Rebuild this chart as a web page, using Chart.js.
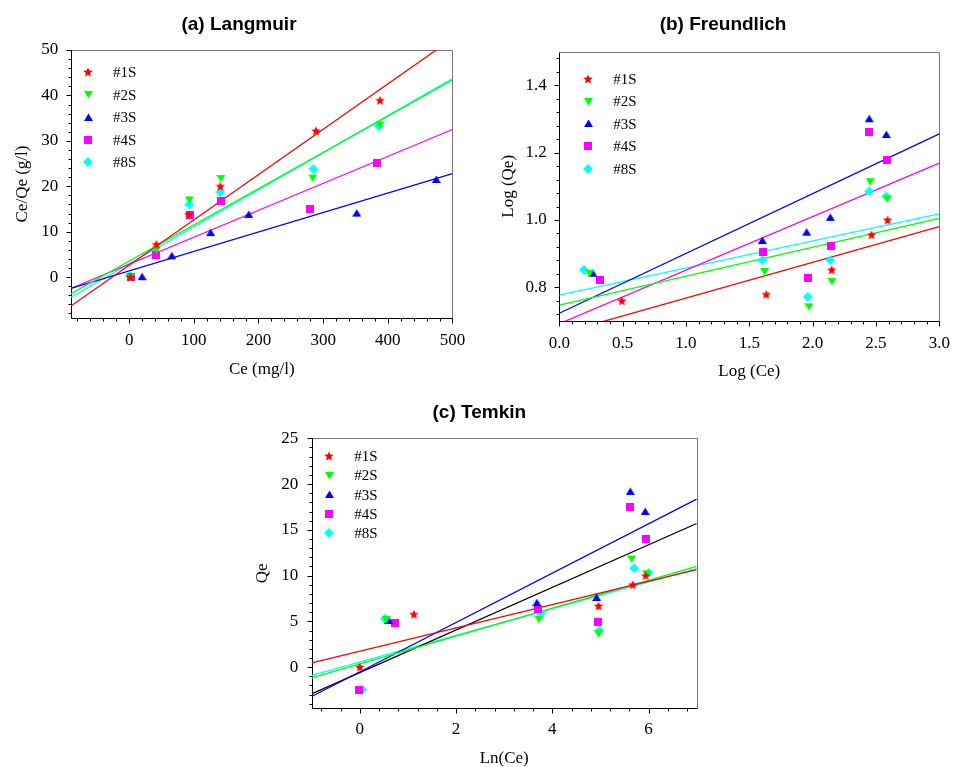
<!DOCTYPE html>
<html>
<head>
<meta charset="utf-8">
<script src="https://cdn.jsdelivr.net/npm/chart.js@4"></script>
<style>
  body { margin: 0; background: #fff; width: 962px; height: 767px; position: relative; overflow: hidden; }
  canvas { position: absolute; }
</style>
</head>
<body>
<canvas id="langmuir" width="478" height="400" style="left:0;top:0"></canvas>
<canvas id="freundlich" width="482" height="400" style="left:480px;top:0"></canvas>
<canvas id="temkin" width="480" height="367" style="left:240px;top:400px"></canvas>
<script>
const seriesNames = ["#1S", "#2S", "#3S", "#4S", "#8S"];
const seriesColors = ["#ff0000", "#00ff00", "#0000ff", "#ff00ff", "#00ffff"];
const seriesShapes = ["star", "triangleDown", "triangle", "square", "diamond"];

// (a) Langmuir: Ce (mg/l) vs Ce/Qe (g/l)
const langmuirCe = [
  [2, 42, 92, 141, 289, 388],
  [2, 42, 93, 142, 284, 388],
  [20, 66, 126, 185, 352, 475],
  [3, 42, 94, 142, 280, 383],
  [1, 41, 93, 141, 285, 386]
];
const langmuirCeQe = [
  [0, 7.2, 13.8, 20.0, 32.2, 38.9],
  [0, 6.0, 17.0, 21.7, 21.8, 33.5],
  [0.1, 4.7, 9.8, 13.8, 14.1, 21.5],
  [0, 4.8, 13.6, 16.7, 15.1, 25.2],
  [0.3, 5.4, 16.0, 18.7, 23.8, 33.3]
];
const langmuirFitX = [-90, 500];
const langmuirFitY = [[-6.35, 52.5], [-3.66, 43.4], [-2.47, 22.8], [-2.48, 32.5], [-4.43, 43.7]];
const langmuirXTicks = [0, 100, 200, 300, 400, 500];
const langmuirYTicks = [0, 10, 20, 30, 40, 50];

// (b) Freundlich: Log(Ce) vs Log(Qe)
const freundlichLogCe = [
  [0.494, 1.634, 2.151, 2.465, 2.592],
  [0.239, 1.621, 1.971, 2.153, 2.455, 2.592],
  [0.265, 1.603, 1.953, 2.140, 2.447, 2.582],
  [0.322, 1.608, 1.966, 2.148, 2.447, 2.587],
  [0.195, 1.603, 1.961, 2.140, 2.447, 2.582]
];
const freundlichLogQe = [
  [0.760, 0.779, 0.852, 0.956, 1.000],
  [0.842, 0.847, 0.742, 0.817, 1.114, 1.063],
  [0.842, 0.939, 0.964, 1.008, 1.301, 1.254],
  [0.822, 0.906, 0.827, 0.924, 1.261, 1.179],
  [0.852, 0.881, 0.772, 0.881, 1.085, 1.070]
];
const freundlichFitX = [0, 3];
const freundlichFitY = [[0.662, 0.980], [0.747, 1.005], [0.723, 1.256], [0.692, 1.169], [0.777, 1.018]];
const freundlichXTicks = [0, 0.5, 1.0, 1.5, 2.0, 2.5, 3.0];
const freundlichYTicks = [0.8, 1.0, 1.2, 1.4];

// (c) Temkin: Ln(Ce) vs Qe
const temkinLnCe = [
  [0, 1.124, 4.96, 5.67, 5.94],
  [0.55, 3.72, 4.96, 5.65, 5.96],
  [0.603, 3.68, 4.92, 5.62, 5.93],
  [-0.02, 0.728, 3.70, 4.95, 5.62, 5.94],
  [0.05, 0.52, 3.76, 4.98, 5.70, 6.0]
];
const temkinQe = [
  [0, 5.77, 6.68, 9.0, 10.0],
  [5.2, 5.2, 3.65, 11.8, 10.2],
  [5.1, 7.04, 7.6, 19.2, 17.0],
  [-2.45, 4.85, 6.4, 4.93, 17.5, 14.05],
  [-2.45, 5.3, 5.84, 4.0, 10.8, 10.3]
];
const temkinFitX = [-1, 7];
const temkinFitY = [[0.47, 10.66], [-1.17, 11.02], [-3.21, 18.36], [-2.92, 15.69], [-0.91, 10.77]];
const temkinFitColors = ["#ff0000", "#00ff00", "#0000ff", "#000000", "#00ffff"];
const temkinXTicks = [0, 2, 4, 6];
const temkinYTicks = [0, 5, 10, 15, 20, 25];

const serif = "'Liberation Serif', 'Times New Roman', serif";

function makeMarker(shape, color) {
  const size = { star: 10, triangle: 9, triangleDown: 9, square: 8, diamond: 10 }[shape];
  const c = document.createElement("canvas");
  c.width = size;
  c.height = size;
  const g = c.getContext("2d");
  const r = size / 2;
  g.fillStyle = color;
  g.beginPath();
  if (shape === "star") {
    for (let i = 0; i < 10; i++) {
      const a = -Math.PI / 2 + i * Math.PI / 5;
      const rr = i % 2 ? r * 0.45 : r;
      g.lineTo(r + rr * Math.cos(a), r + 0.4 + rr * Math.sin(a));
    }
  } else if (shape === "triangle") {
    g.moveTo(r, 0.5);
    g.lineTo(size, size - 1);
    g.lineTo(0, size - 1);
  } else if (shape === "triangleDown") {
    g.moveTo(0, 1);
    g.lineTo(size, 1);
    g.lineTo(r, size - 0.5);
  } else if (shape === "square") {
    g.rect(0, 0, size, size);
  } else {
    g.moveTo(r, 0);
    g.lineTo(size, r);
    g.lineTo(r, size);
    g.lineTo(0, r);
  }
  g.closePath();
  g.fill();
  return c;
}

const markers = seriesShapes.map((s, i) => makeMarker(s, seriesColors[i]));

// frame round the plot area, with outward major and minor ticks on left and bottom
const frameTicks = {
  id: "frameTicks",
  beforeDatasetsDraw(chart, args, opts) {
    const { ctx, chartArea: a, scales } = chart;
    const L = Math.round(a.left) + 0.5, R = Math.round(a.right) + 0.5;
    const T = Math.round(a.top) + 0.5, B = Math.round(a.bottom) + 0.5;
    ctx.save();
    ctx.lineWidth = 1;
    ctx.strokeStyle = "#777";
    ctx.beginPath();
    ctx.moveTo(L, T); ctx.lineTo(R, T); ctx.lineTo(R, B);
    ctx.stroke();
    ctx.strokeStyle = "#000";
    ctx.beginPath();
    ctx.moveTo(L, T); ctx.lineTo(L, B); ctx.lineTo(R, B);
    const mark = (scale, step, len) => {
      const start = Math.ceil(scale.min / step - 1e-6);
      const end = Math.floor(scale.max / step + 1e-6);
      for (let k = start; k <= end; k++) {
        const p = Math.round(scale.getPixelForValue(k * step)) + 0.5;
        if (scale.axis === "x") { ctx.moveTo(p, B); ctx.lineTo(p, B + len); }
        else { ctx.moveTo(L, p); ctx.lineTo(L - len, p); }
      }
    };
    mark(scales.x, opts.xMinor, 3);
    mark(scales.y, opts.yMinor, 3);
    mark(scales.x, opts.xMajor, 5);
    mark(scales.y, opts.yMajor, 5);
    ctx.stroke();
    ctx.restore();
  }
};

// legend drawn inside the plot area, top left
const insideLegend = {
  id: "insideLegend",
  afterDatasetsDraw(chart, args, opts) {
    const { ctx, chartArea: a } = chart;
    ctx.save();
    ctx.font = "15px " + serif;
    ctx.fillStyle = "#000";
    ctx.textBaseline = "middle";
    let row = 0;
    chart.data.datasets.forEach((ds) => {
      if (ds.isFit) return;
      const cy = a.top + opts.top + row * opts.rowHeight;
      const img = ds.pointStyle;
      ctx.drawImage(img, Math.round(a.left + opts.markerX - img.width / 2), Math.round(cy - img.height / 2));
      ctx.fillText(ds.label, a.left + opts.textX, cy + 1);
      row++;
    });
    ctx.restore();
  }
};

function buildPanel(p) {
  const datasets = [];
  p.fitY.forEach((ends, i) => {
    datasets.push({
      label: seriesNames[i] + " fit",
      isFit: true,
      data: p.fitX.map((x, k) => ({ x: x, y: ends[k] })),
      showLine: true,
      borderColor: p.fitColors[i],
      borderWidth: 1.3,
      pointRadius: 0,
      order: 2
    });
  });
  p.xs.forEach((xs, i) => {
    datasets.push({
      label: seriesNames[i],
      data: xs.map((x, k) => ({ x: x, y: p.ys[i][k] })),
      pointStyle: markers[i],
      pointRadius: 5,
      showLine: false,
      order: 1
    });
  });

  const tickFont = { family: serif, size: 17 };
  new Chart(document.getElementById(p.id), {
    type: "scatter",
    data: { datasets },
    options: {
      responsive: false,
      animation: false,
      events: [],
      layout: { padding: { left: p.padLeft, right: p.padRight, top: 0, bottom: 0 } },
      plugins: {
        legend: { display: false },
        tooltip: { enabled: false },
        title: {
          display: true,
          text: p.title,
          color: "#000",
          font: { family: "'Liberation Sans', Arial, sans-serif", size: 19, weight: "bold" },
          padding: p.titlePad
        },
        frameTicks: p.ticks,
        insideLegend: p.legend
      },
      scales: {
        x: {
          type: "linear",
          min: p.x.min,
          max: p.x.max,
          grid: { display: false, drawTicks: false },
          border: { display: false },
          afterBuildTicks: (s) => { s.ticks = p.x.ticks.map((v) => ({ value: v })); },
          afterFit: (s) => { s.height = p.x.height; },
          ticks: {
            color: "#000",
            font: tickFont,
            padding: p.x.tickPad,
            maxRotation: 0,
            callback: (v) => v.toFixed(p.decimals)
          },
          title: { display: true, text: p.x.title, color: "#000", font: tickFont, padding: { top: 0, bottom: p.x.titlePad } }
        },
        y: {
          type: "linear",
          min: p.y.min,
          max: p.y.max,
          grid: { display: false, drawTicks: false },
          border: { display: false },
          afterBuildTicks: (s) => { s.ticks = p.y.ticks.map((v) => ({ value: v })); },
          afterFit: (s) => { s.width = p.y.width; },
          ticks: {
            color: "#000",
            font: tickFont,
            padding: p.y.tickPad,
            callback: (v) => v.toFixed(p.decimals)
          },
          title: { display: true, text: p.y.title, color: "#000", font: tickFont, padding: { top: p.y.titlePad, bottom: 0 } }
        }
      }
    },
    plugins: [frameTicks, insideLegend]
  });
}

buildPanel({
  id: "langmuir",
  title: "(a) Langmuir",
  titlePad: { top: 13.6, bottom: 13.6 },
  padLeft: 22, padRight: 22,
  xs: langmuirCe, ys: langmuirCeQe,
  fitX: langmuirFitX, fitY: langmuirFitY, fitColors: seriesColors,
  decimals: 0,
  x: { min: -90, max: 500, ticks: langmuirXTicks, title: "Ce (mg/l)", tickPad: 12.8, titlePad: 19.8, height: 82 },
  y: { min: -9, max: 50, ticks: langmuirYTicks, title: "Ce/Qe (g/l)", tickPad: 12.7, titlePad: -9.2, width: 49 },
  ticks: { xMajor: 100, xMinor: 20, yMajor: 10, yMinor: 2 },
  legend: { markerX: 17, textX: 42, top: 22, rowHeight: 22.6 }
});

buildPanel({
  id: "freundlich",
  title: "(b) Freundlich",
  titlePad: { top: 13.6, bottom: 15.3 },
  padLeft: 21.7, padRight: 17.7,
  xs: freundlichLogCe, ys: freundlichLogQe,
  fitX: freundlichFitX, fitY: freundlichFitY, fitColors: seriesColors,
  decimals: 1,
  x: { min: 0, max: 3, ticks: freundlichXTicks, title: "Log (Ce)", tickPad: 12.1, titlePad: 17.8, height: 79 },
  y: { min: 0.7, max: 1.5, ticks: freundlichYTicks, title: "Log (Qe)", tickPad: 12.6, titlePad: -3.6, width: 57.6 },
  ticks: { xMajor: 0.5, xMinor: 0.1, yMajor: 0.2, yMinor: 0.04 },
  legend: { markerX: 29, textX: 54, top: 27, rowHeight: 22.5 }
});

buildPanel({
  id: "temkin",
  title: "(c) Temkin",
  titlePad: { top: 1.6, bottom: 13.9 },
  padLeft: 22, padRight: 23.3,
  xs: temkinLnCe, ys: temkinQe,
  fitX: temkinFitX, fitY: temkinFitY, fitColors: temkinFitColors,
  decimals: 0,
  x: { min: -1, max: 7, ticks: temkinXTicks, title: "Ln(Ce)", tickPad: 11.5, titlePad: -2, height: 58.7 },
  y: { min: -4.5, max: 25, ticks: temkinYTicks, title: "Qe", tickPad: 13.4, titlePad: -9.2, width: 49.7 },
  ticks: { xMajor: 2, xMinor: 0.4, yMajor: 5, yMinor: 1 },
  legend: { markerX: 17.6, textX: 42.6, top: 17.7, rowHeight: 19.3 }
});
</script>
</body>
</html>
